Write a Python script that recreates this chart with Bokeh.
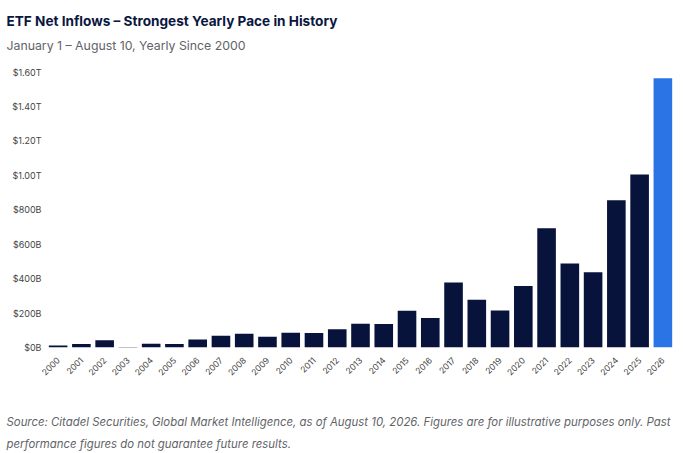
from bokeh.embed import file_html
from bokeh.resources import INLINE
from bokeh.models import ColumnDataSource, FactorRange, Range1d, Title, FixedTicker
from bokeh.plotting import figure

years = [str(y) for y in range(2000, 2027)]
inflows_b = [12, 20, 42, 3, 22, 20, 46, 68, 80, 63, 85, 84, 106, 138, 137, 213, 172,
             377, 277, 215, 358, 693, 488, 437, 855, 1005, 1565]
bar_colors = ["#07133b"] * 26 + ["#2b74e6"]
tick_values = [0, 200, 400, 600, 800, 1000, 1200, 1400, 1600]
tick_labels = ["$0B", "$200B", "$400B", "$600B", "$800B", "$1.00T", "$1.20T", "$1.40T", "$1.60T"]
title_text = "ETF Net Inflows – Strongest Yearly Pace in History"
subtitle_text = "January 1 – August 10, Yearly Since 2000"
source_lines = [
    "Source: Citadel Securities, Global Market Intelligence, as of August 10, 2026. Figures are for illustrative purposes only. Past",
    "performance figures do not guarantee future results.",
]

W, H = 683, 453
L, R = 46, 9

p = figure(width=W, height=H, x_range=FactorRange(*years, range_padding=0, factor_padding=0),
           y_range=Range1d(0, 1650), output_backend="svg", toolbar_location=None,
           min_border_left=L, min_border_right=R, min_border_top=63, min_border_bottom=105,
           margin=(0, 0, 0, 0))
p.outline_line_color = None
p.grid.grid_line_color = None
p.background_fill_color = "white"
p.border_fill_color = "white"

src = ColumnDataSource(dict(year=years, value=inflows_b, color=bar_colors))
p.vbar(x="year", top="value", width=0.8, bottom=0, source=src, fill_color="color", line_color=None)

p.yaxis.ticker = FixedTicker(ticks=tick_values)
p.yaxis.major_label_overrides = dict(zip(tick_values, tick_labels))
p.yaxis.axis_line_color = None
p.yaxis.major_tick_line_color = None
p.yaxis.minor_tick_line_color = None
p.yaxis.major_label_text_font = "Inter"
p.yaxis.major_label_text_font_size = "9px"
p.yaxis.major_label_text_color = "#444444"
p.yaxis.major_label_standoff = -1

p.xaxis.axis_line_color = None
p.xaxis.major_tick_line_color = None
p.xaxis.minor_tick_line_color = None
p.xaxis.major_label_orientation = 0.785
p.xaxis.major_label_text_font = "Inter"
p.xaxis.major_label_text_font_size = "8.5px"
p.xaxis.major_label_text_color = "#444444"
p.xaxis.major_label_standoff = 5

def text(s, side, size, color, style, standoff):
    p.add_layout(Title(text=s, text_font="Inter", text_font_size=size, text_color=color,
                       text_font_style=style, align="left", offset=6 - L, standoff=standoff),
                 side)

text(subtitle_text, "above", "12.3px", "#5f6368", "normal", 21)
text(title_text, "above", "13.6px", "#0a1640", "bold", -6)
# a blank title only reserves room between the year labels and the source note
text("\u00a0", "below", "11.4px", "#5f6368", "italic", 12)
text(source_lines[0], "below", "11.4px", "#5f6368", "italic", 7)
text(source_lines[1], "below", "11.4px", "#5f6368", "italic", 5)

open("out.html", "w").write(file_html(p, INLINE))
